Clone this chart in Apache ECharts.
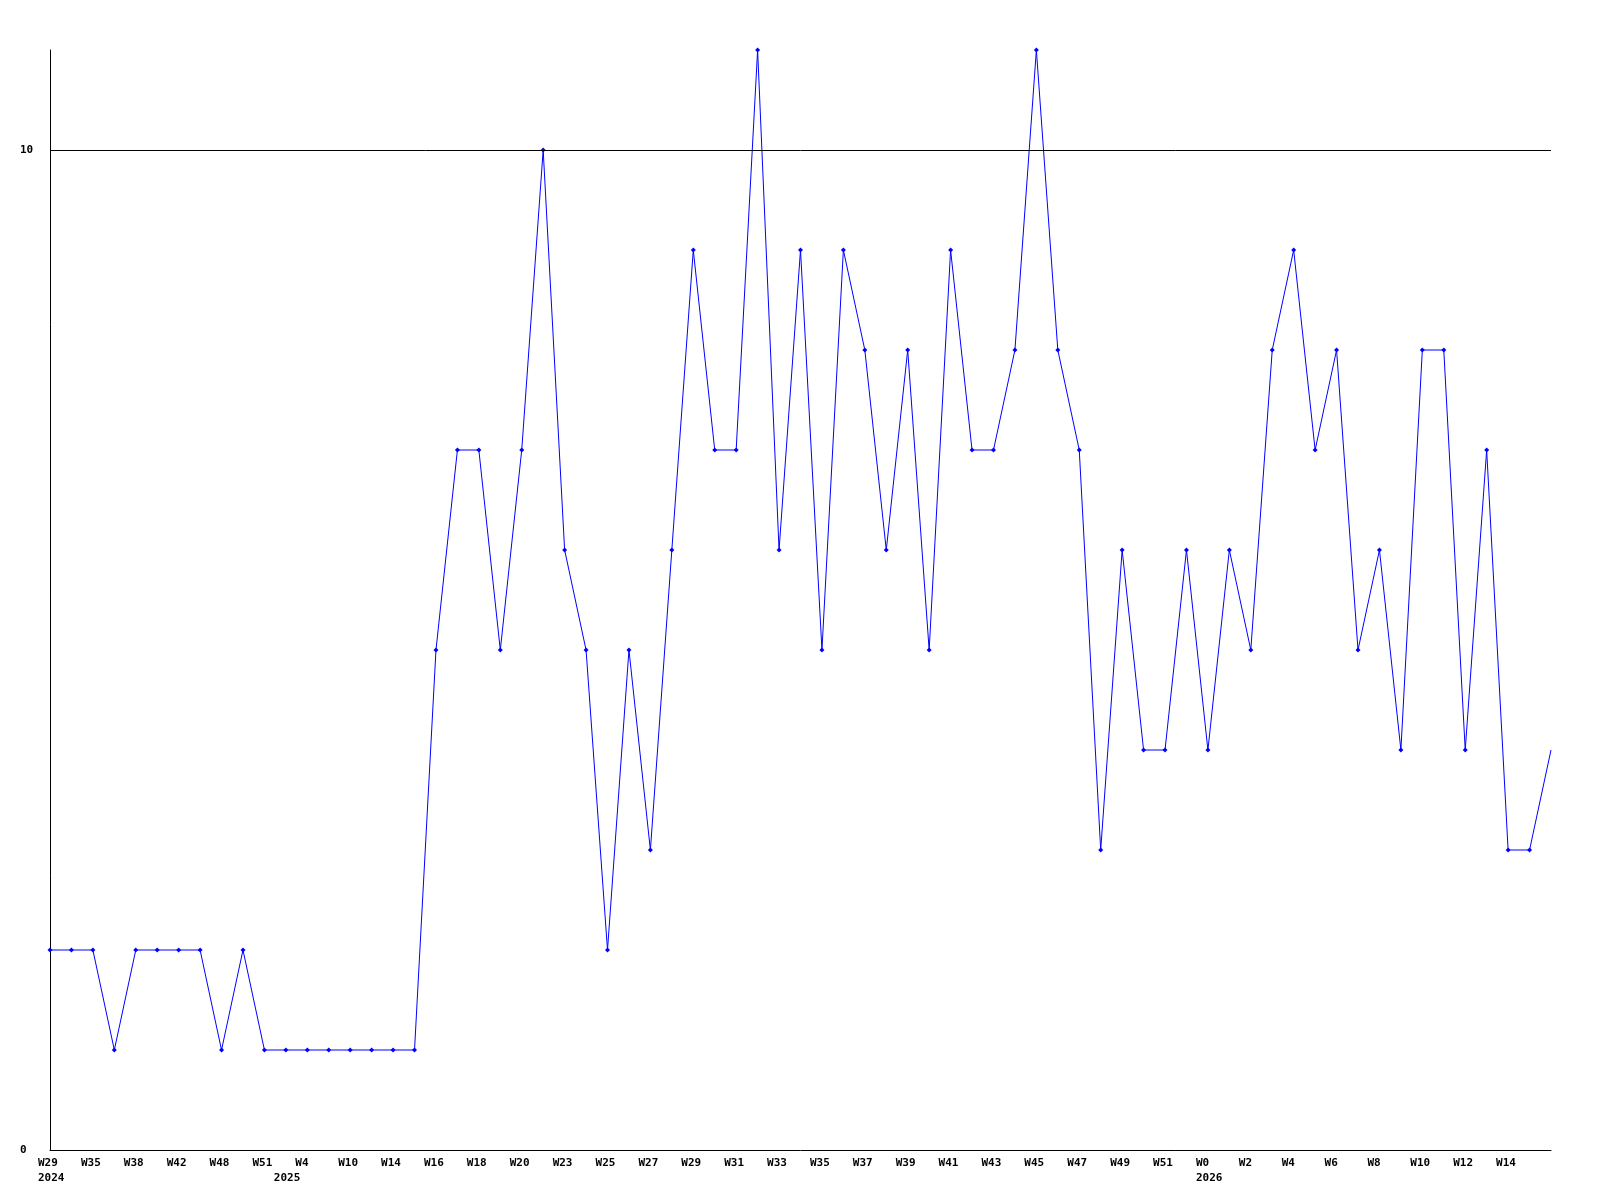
<!DOCTYPE html>
<html>
<head>
<meta charset="utf-8">
<script src="https://cdn.jsdelivr.net/npm/echarts@6/dist/echarts.min.js"></script>
<style>html,body{margin:0;padding:0;background:#fff;}#c{width:1600px;height:1200px;}</style>
</head>
<body>
<div id="c"></div>
<script>
// Week labels shown on the x axis (every other point), blanks where no label is drawn
var weekLabels = ['W29','','W35','','W38','','W42','','W48','','W51','','W4','','W10','','W14','','W16','','W18','','W20','','W23','','W25','','W27','','W29','','W31','','W33','','W35','','W37','','W39','','W41','','W43','','W45','','W47','','W49','','W51','','W0','','W2','','W4','','W6','','W8','','W10','','W12','','W14','',''];
// Year labels (second row)
var yearLabels = {0: '2024', 11: '2025', 54: '2026'};
// Series values
var values = [2,2,2,1,2,2,2,2,1,2,1,1,1,1,1,1,1,1,5,7,7,5,7,10,6,5,2,5,3,6,9,7,7,11,6,9,5,9,8,6,8,5,9,7,7,8,11,8,7,3,6,4,4,6,4,6,5,8,9,7,8,5,6,4,8,8,4,7,3,3,4];
// Y tick labels
var yTickLabels = [0, 10];
var refLine = 10;

var categories = values.map(function(v, i){ return String(i); });
var seriesData = values.map(function(v, i){
  return i === values.length - 1 ? {value: v, symbol: 'none'} : v;
});

var chart = echarts.init(document.getElementById('c'), null, {renderer: 'canvas'});
var font = '"DejaVu Sans Mono", monospace';
chart.setOption({
  animation: false,
  backgroundColor: '#ffffff',
  grid: {left: 50, right: 49, top: 50, bottom: 50, containLabel: false},
  xAxis: {
    type: 'category',
    data: categories,
    boundaryGap: false,
    axisLine: {lineStyle: {color: '#000', width: 1}},
    axisTick: {show: false},
    splitLine: {show: false},
    axisLabel: {
      interval: 0,
      align: 'left',
      margin: 6,
      padding: [0, 0, 0, -12],
      fontFamily: font,
      fontWeight: 'bold',
      fontSize: 11,
      lineHeight: 15,
      color: '#000',
      formatter: function(v, i){
        var w = weekLabels[i] || '';
        var y = yearLabels[i] || '';
        if (!w && !y) return '';
        return w + '\n' + y;
      }
    }
  },
  yAxis: {
    type: 'value',
    min: 0, max: 11, interval: 10,
    axisLine: {show: true, lineStyle: {color: '#000', width: 1}},
    axisTick: {show: false},
    splitLine: {show: false},
    axisLabel: {
      align: 'left',
      margin: 30,
      fontFamily: font,
      fontWeight: 'bold',
      fontSize: 11,
      color: '#000',
      showMaxLabel: false,
      formatter: function(v){ return yTickLabels.indexOf(v) >= 0 ? String(v) : ''; }
    }
  },
  series: [{
    type: 'line',
    data: seriesData,
    symbol: 'diamond',
    symbolSize: 5,
    showAllSymbol: true,
    lineStyle: {color: '#0000ff', width: 1},
    itemStyle: {color: '#0000ff'},
    markLine: {
      silent: true,
      symbol: 'none',
      label: {show: false},
      lineStyle: {color: '#000', width: 1, type: 'solid'},
      data: [{yAxis: refLine}]
    }
  }]
});
</script>
</body>
</html>
